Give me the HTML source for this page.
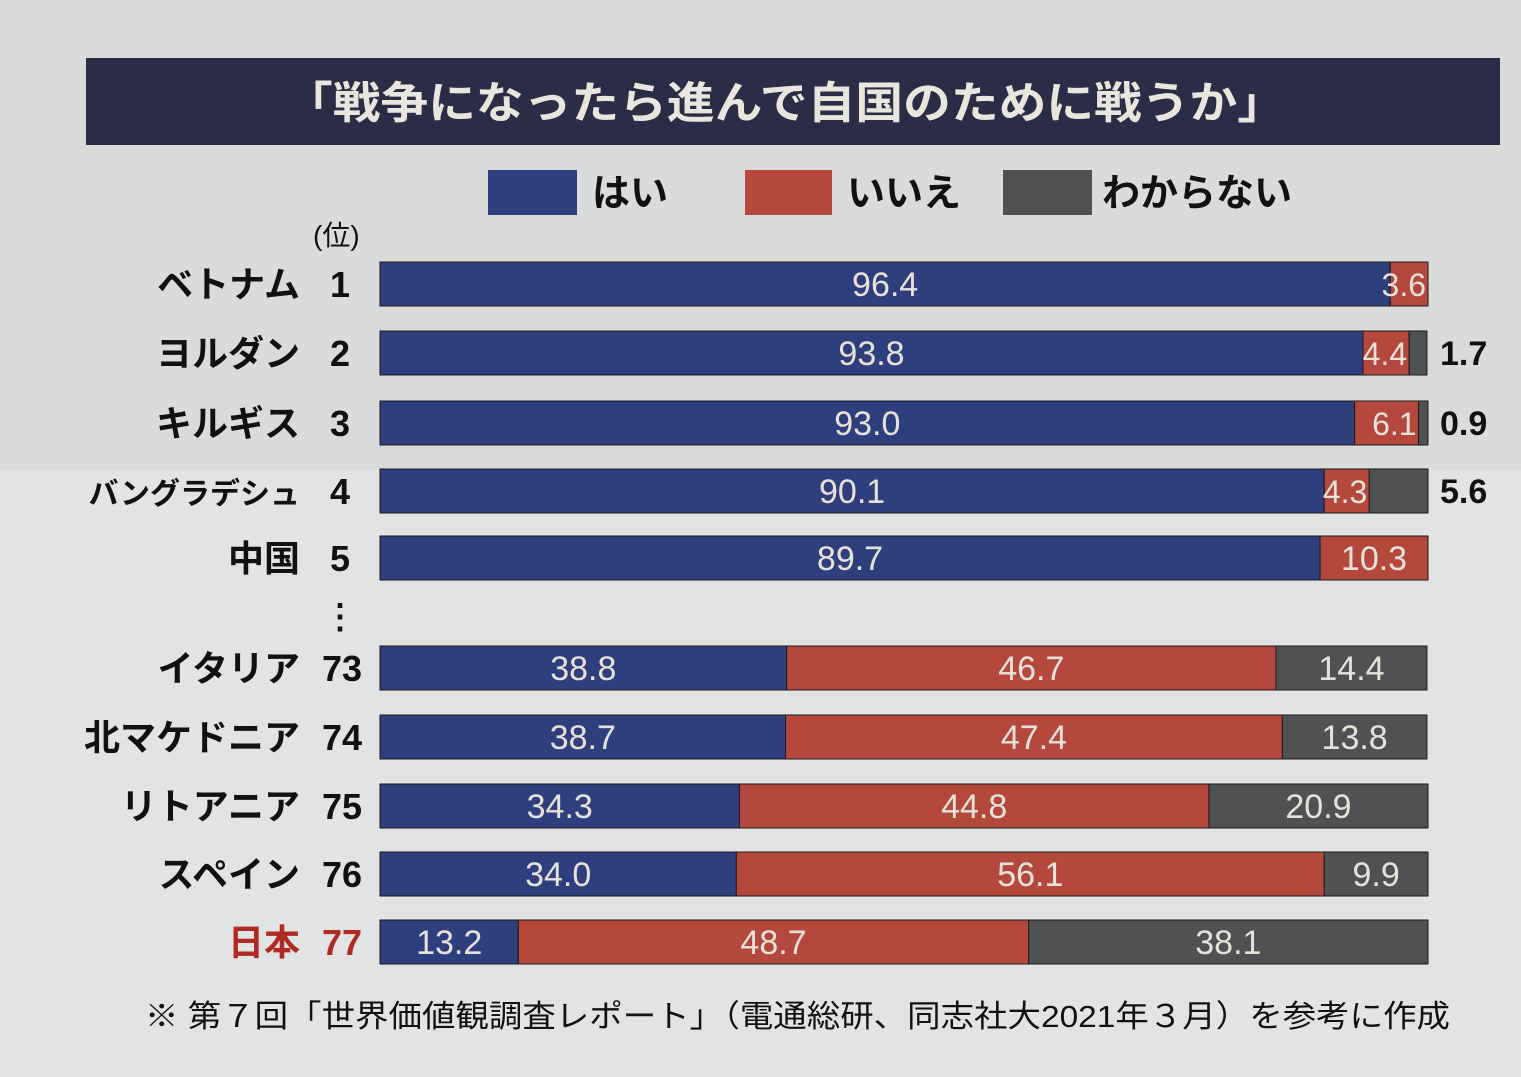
<!DOCTYPE html>
<html><head><meta charset="utf-8"><style>
body{margin:0;width:1521px;height:1077px;overflow:hidden;background:#d9dcda;font-family:"Liberation Sans","Noto Sans CJK JP",sans-serif;}
</style></head><body>
<svg width="1521" height="1077" xmlns="http://www.w3.org/2000/svg" style="display:block">
<rect x="0" y="0" width="1521" height="1077" fill="#d9dcda"/>
<rect x="0" y="470" width="1521" height="607" fill="#e2e4e3"/>
<rect x="86" y="58" width="1414" height="87" fill="#2a2d45"/>
<text x="785" y="118" text-anchor="middle" font-size="44" fill="#e8e6de" font-weight="bold" textLength="1000" lengthAdjust="spacingAndGlyphs">「戦争になったら進んで自国のために戦うか」</text>
<g id="legend">
<rect x="488" y="170" width="89" height="45" fill="#2f3f7e"/>
<text x="592" y="206" font-size="38" font-weight="bold" fill="#111">はい</text>
<rect x="745" y="170" width="87" height="45" fill="#b5483c"/>
<text x="847" y="206" font-size="38" font-weight="bold" fill="#111">いいえ</text>
<rect x="1003" y="170" width="89" height="45" fill="#4f5152"/>
<text x="1102" y="206" font-size="38" font-weight="bold" fill="#111">わからない</text>
</g>
<text x="313" y="245" font-size="28" fill="#111">(位)</text>
<text x="340" y="628" text-anchor="middle" font-size="34" font-weight="bold" fill="#111">⋮</text>
<g id="bars"></g>
<text x="145" y="1027" font-size="31" fill="#111" textLength="1305" lengthAdjust="spacingAndGlyphs">※ 第７回「世界価値観調査レポート」（電通総研、同志社大2021年３月）を参考に作成</text>
</svg>
<script>
const countries=["ベトナム","ヨルダン","キルギス","バングラデシュ","中国","イタリア","北マケドニア","リトアニア","スペイン","日本"];
const ranks=["1","2","3","4","5","73","74","75","76","77"];
const yesVals=[96.4,93.8,93.0,90.1,89.7,38.8,38.7,34.3,34.0,13.2];
const noVals=[3.6,4.4,6.1,4.3,10.3,46.7,47.4,44.8,56.1,48.7];
const dkVals=[0,1.7,0.9,5.6,0,14.4,13.8,20.9,9.9,38.1];
const rowY=[284,353,423,491,558,668,737,806,874,942];
const NS="http://www.w3.org/2000/svg";
const g=document.getElementById('bars');
const x0=380,W=1048,BH=44;
const xs=v=>v/100*W;
function mk(t,a){const e=document.createElementNS(NS,t);for(const k in a)e.setAttribute(k,a[k]);g.appendChild(e);return e;}
countries.forEach((c,i)=>{
  const yc=rowY[i],top=yc-BH/2;
  const isJp=c==="日本";
  const nm=mk('text',{x:300,y:yc+13,'text-anchor':'end','font-size':c.length>6?30:36,'font-weight':'bold',fill:isJp?'#b02a24':'#111'});
  nm.textContent=c;
  
  
  const rk=mk('text',{x:ranks[i].length>1?362:340,y:yc+13,'text-anchor':ranks[i].length>1?'end':'middle','font-size':36,'font-weight':'bold',fill:isJp?'#b02a24':'#111'});
  rk.textContent=ranks[i];
  
  
  let x=x0;
  const outside=dkVals[i]>0&&dkVals[i]<6&&yesVals[i]>80;
  const segs=[[yesVals[i],'#2f3f7e','yes'],[noVals[i],'#b5483c','no'],[dkVals[i],'#4f5152','dk']];
  segs.forEach(([v,col,k])=>{
    if(v<=0)return;
    const w=xs(v);
    const r=mk('rect',{x:x,y:top,width:w,height:BH,fill:col,stroke:'#1a1a1a','stroke-width':1});
    
    
    if(!(k==='dk'&&outside)){
      const small=w<70;
      const t=mk('text',{x:small?x+w-2:x+w/2,y:yc+12,'text-anchor':small?'end':'middle','font-size':small?32:34,fill:'#e6e2da'});
      t.textContent=v.toFixed(1);
      
      
    }
    x+=w;
  });
  if(outside){
    const t=mk('text',{x:x0+W+12,y:yc+12,'font-size':34,'font-weight':'bold',fill:'#111'});
    t.textContent=dkVals[i].toFixed(1);
    
    
  }
});
</script>
</body></html>
